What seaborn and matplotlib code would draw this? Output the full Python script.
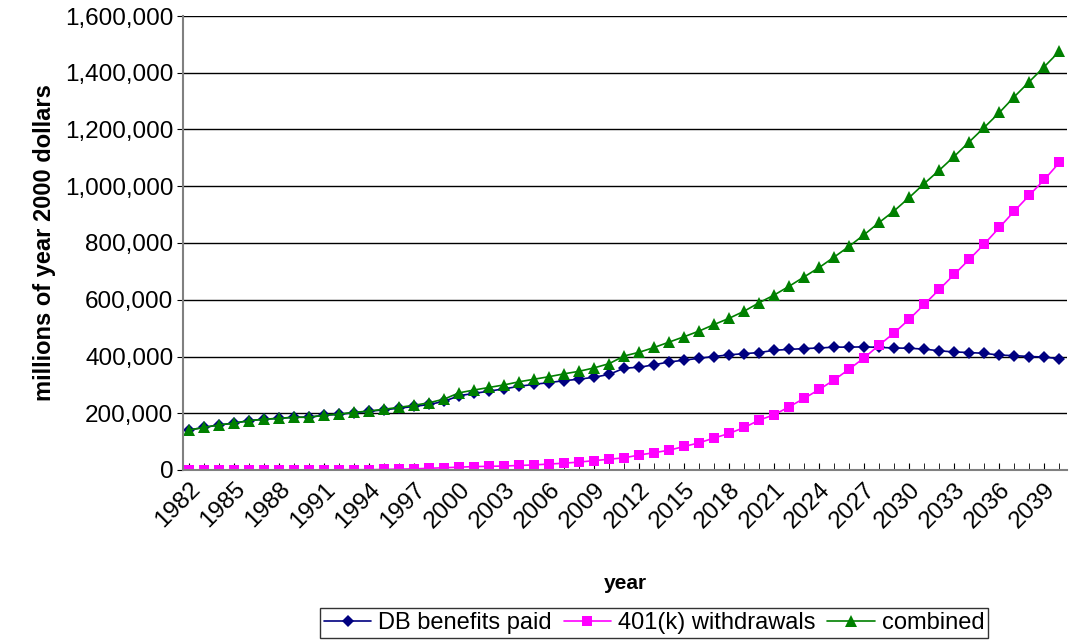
import numpy as np
import pandas as pd
import matplotlib
matplotlib.use("Agg")
import matplotlib.pyplot as plt
import seaborn as sns
from matplotlib.ticker import FuncFormatter

years = list(range(1982, 2041))
combined = [141,150,159,165,174,179,182,186,186,193,197,203,208,214,221,228,237,250,272,282,
            291,300,311,320,329,339,348,360,375,
            402,415,432,451,470,490,513,535,560,590,617,648,681,714,751,789,830,873,914,961,
            1010,1057,1106,1157,1208,1260,1316,1369,1422,1476]
k401 = [0,0,0,0,0,0,0,0,0,0,1,1,1,2,3,4,6,8,10,12,13,14,16,18,21,24,28,33,38,
        43,53,61,70,83,96,113,129,150,176,195,223,253,284,318,356,396,441,484,532,
        584,637,690,743,797,855,913,969,1024,1084]
combined = [v*1000 for v in combined]
k401 = [v*1000 for v in k401]
db = [c - k for c, k in zip(combined, k401)]

sns.set_style("white")
plt.rcParams['font.family'] = ['Liberation Sans', 'DejaVu Sans']
plt.rcParams['text.color'] = 'black'
plt.rcParams['axes.labelcolor'] = 'black'
plt.rcParams['xtick.color'] = 'black'
plt.rcParams['ytick.color'] = 'black'

df = pd.DataFrame({"year": years*3,
                   "value": db + k401 + combined,
                   "series": ["DB benefits paid"]*len(years) + ["401(k) withdrawals"]*len(years) + ["combined"]*len(years)})

fig = plt.figure(figsize=(10.74, 6.44), dpi=100)
ax = fig.add_axes([183/1074, 1-470/644, (1067-183)/1074, 454/644])
colors = {"DB benefits paid": "#000080", "401(k) withdrawals": "#FF00FF", "combined": "#008000"}
markers = {"DB benefits paid": "D", "401(k) withdrawals": "s", "combined": "^"}
sizes = {"DB benefits paid": 6, "401(k) withdrawals": 7, "combined": 8}
for s in ["DB benefits paid", "401(k) withdrawals", "combined"]:
    sub = df[df.series == s]
    sns.lineplot(data=sub, x="year", y="value", ax=ax, color=colors[s], marker=markers[s],
                 markersize=sizes[s], markeredgewidth=0, linewidth=1.2, label=s)

ax.set_xlim(1981.6, 2040.5)
ax.set_ylim(0, 1600000)
ax.set_yticks(range(0, 1600001, 200000))
ax.yaxis.set_major_formatter(FuncFormatter(lambda v, p: f"{int(v):,}"))
ax.set_xticks(list(range(1982, 2041, 3)))
ax.set_xticks(years, minor=True)
ax.tick_params(axis='x', which='both', direction='in', length=5, bottom=True, labelsize=17.5, pad=6)
ax.tick_params(axis='y', labelsize=17.5, left=True, direction='out', length=4, pad=3)
plt.setp(ax.get_xticklabels(), rotation=45, ha='right', rotation_mode='anchor')
ax.grid(axis='y', color='black', linewidth=1)
for sp in ['top', 'right']:
    ax.spines[sp].set_visible(False)
for sp in ['left', 'bottom']:
    ax.spines[sp].set_color('#808080')
    ax.spines[sp].set_linewidth(1.5)
ax.set_xlabel("year", fontsize=15, fontweight='bold', labelpad=30)
ax.set_ylabel("millions of year 2000 dollars", fontsize=17, fontweight='bold', labelpad=6)
ax.legend(loc='upper center', bbox_to_anchor=(0.533, -0.305), ncol=3, frameon=True, fancybox=False,
          edgecolor='black', fontsize=17, handlelength=2.0, columnspacing=0.5, handletextpad=0.3,
          borderpad=0.15, borderaxespad=0)
fig.savefig("out.png", dpi=100)
